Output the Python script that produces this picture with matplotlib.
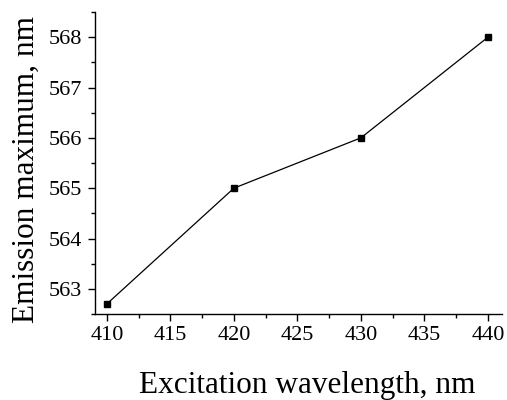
import matplotlib
matplotlib.use("Agg")
import matplotlib.pyplot as plt
from matplotlib.ticker import MultipleLocator

# data
excitation = [410, 420, 430, 440]
emission_max = [562.7, 565.0, 566.0, 568.0]

plt.rcParams['font.family'] = ['Liberation Serif', 'DejaVu Serif']

fig = plt.figure(figsize=(5.07, 4.0), dpi=100)
ax = fig.add_axes([0.187, 0.215, 0.803, 0.755])

ax.plot(excitation, emission_max, color='black', linewidth=0.9,
        marker='s', markersize=5, markerfacecolor='black', markeredgecolor='black')

ax.set_xlim(409.05, 441.1)
ax.set_ylim(562.5, 568.5)

ax.xaxis.set_major_locator(MultipleLocator(5))
ax.xaxis.set_minor_locator(MultipleLocator(2.5))
ax.yaxis.set_major_locator(MultipleLocator(1))
ax.yaxis.set_minor_locator(MultipleLocator(0.5))

ax.spines['top'].set_visible(False)
ax.spines['right'].set_visible(False)
for s in ('left', 'bottom'):
    ax.spines[s].set_linewidth(1.0)

ax.tick_params(axis='both', which='major', direction='out', length=5, width=1,
               labelsize=16, pad=4)
ax.tick_params(axis='both', which='minor', direction='out', length=3, width=1)

ax.set_xlabel('Excitation wavelength, nm', fontsize=22.5)
ax.set_ylabel('Emission maximum, nm', fontsize=22.5)
ax.xaxis.set_label_coords(0.521, -0.190)
ax.yaxis.set_label_coords(-0.132, 0.477)

fig.savefig('out.png', dpi=100)
